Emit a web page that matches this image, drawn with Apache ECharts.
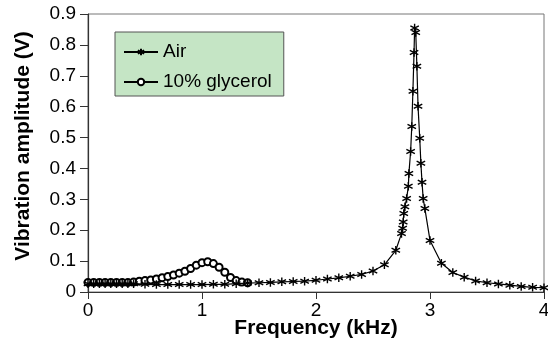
<!DOCTYPE html>
<html>
<head>
<meta charset="utf-8">
<script src="https://cdn.jsdelivr.net/npm/echarts@6/dist/echarts.min.js"></script>
<style>html,body{margin:0;padding:0;background:#fff;}#c{width:548px;height:347px;}</style>
</head>
<body>
<div id="c"></div>
<script>
var seriesNames = ['Air', '10% glycerol'];
var airFreq = [0,0.05,0.1,0.15,0.2,0.25,0.3,0.35,0.4,0.5,0.6,0.7,0.8,0.9,1.0,1.1,1.2,1.3,1.4,1.5,1.6,1.7,1.8,1.9,2.0,2.1,2.2,2.3,2.4,2.5,2.6,2.7,2.75,2.76,2.765,2.77,2.78,2.795,2.81,2.815,2.83,2.84,2.85,2.86,2.865,2.875,2.885,2.895,2.91,2.92,2.93,2.94,2.955,3.0,3.1,3.2,3.3,3.4,3.5,3.6,3.7,3.8,3.9,4.0];
var airAmp = [0.027,0.027,0.027,0.027,0.027,0.027,0.027,0.027,0.027,0.025,0.024,0.024,0.024,0.024,0.024,0.025,0.025,0.027,0.029,0.030,0.031,0.033,0.034,0.035,0.038,0.042,0.046,0.051,0.057,0.068,0.088,0.135,0.189,0.206,0.227,0.254,0.276,0.303,0.342,0.384,0.455,0.536,0.650,0.775,0.855,0.840,0.731,0.601,0.498,0.417,0.355,0.303,0.270,0.167,0.093,0.063,0.048,0.036,0.030,0.026,0.022,0.018,0.015,0.014];
var glyFreq = [0,0.05,0.1,0.15,0.2,0.25,0.3,0.35,0.4,0.45,0.5,0.55,0.6,0.65,0.7,0.75,0.8,0.85,0.9,0.95,1.0,1.05,1.1,1.15,1.2,1.25,1.3,1.35,1.4];
var glyAmp = [0.031,0.031,0.031,0.031,0.031,0.031,0.031,0.031,0.032,0.035,0.037,0.039,0.042,0.046,0.050,0.055,0.061,0.067,0.076,0.087,0.095,0.098,0.092,0.080,0.064,0.047,0.037,0.032,0.030];
var xTicks = [0,1,2,3,4];
var yTicks = [0,0.1,0.2,0.3,0.4,0.5,0.6,0.7,0.8,0.9];
var xTitle = 'Frequency (kHz)';
var yTitle = 'Vibration amplitude (V)';

function pairs(xs, ys){ return xs.map(function(x,i){ return [x, ys[i]]; }); }
var FONT = '"Liberation Sans", Arial, Helvetica, sans-serif';
var star = 'path://M5,0L5,10M0.7,2.5L9.3,7.5M9.3,2.5L0.7,7.5';

var chart = echarts.init(document.getElementById('c'), null, {renderer:'canvas'});
chart.setOption({
  animation: false,
  textStyle: {fontFamily: FONT},
  grid: {left: 88, right: 4, top: 14, bottom: 55, containLabel: false, outerBoundsMode: 'none',
    show: true, borderColor: '#777', borderWidth: 1, backgroundColor: 'transparent'},
  legend: {
    orient: 'vertical', left: 115, top: 32,
    backgroundColor: '#c5e5c5', borderColor: '#555', borderWidth: 1,
    padding: [10, 12, 4, 8], itemGap: 10, itemWidth: 34, itemHeight: 8,
    textStyle: {fontSize: 19, color: '#000', lineHeight: 20, fontFamily: FONT},
    data: seriesNames
  },
  xAxis: {
    type: 'value', min: xTicks[0], max: xTicks[xTicks.length-1], interval: 1,
    axisLine: {show: true, lineStyle: {color: '#333', width: 1.2}},
    axisTick: {show: true, inside: false, length: 7, lineStyle: {color: '#333'}},
    axisLabel: {fontSize: 19, color: '#000', margin: 9, fontFamily: FONT},
    splitLine: {show: false},
    name: xTitle, nameLocation: 'middle', nameGap: 26, nameMoveOverlap: false,
    nameTextStyle: {fontSize: 21, fontWeight: 'bold', color: '#000', fontFamily: FONT}
  },
  yAxis: {
    type: 'value', min: yTicks[0], max: yTicks[yTicks.length-1], interval: 0.1,
    axisLine: {show: true, lineStyle: {color: '#333', width: 1.2}},
    axisTick: {show: true, inside: false, length: 8, lineStyle: {color: '#333'}},
    axisLabel: {fontSize: 19, color: '#000', margin: 12, fontFamily: FONT,
      formatter: function(v){ return v === 0 ? '0' : v.toFixed(1); }},
    splitLine: {show: false}
  },
  graphic: [{
    type: 'text', x: 23, y: 146, rotation: Math.PI/2,
    style: {text: yTitle, font: 'bold 21px ' + FONT, fill: '#000', align: 'center', verticalAlign: 'middle'}
  }],
  series: [
    {
      name: seriesNames[0], type: 'line', data: pairs(airFreq, airAmp),
      symbol: star, symbolSize: 8.5, showAllSymbol: true,
      lineStyle: {color: '#000', width: 1.2},
      itemStyle: {color: '#000', borderColor: '#000', borderWidth: 1.4},
      z: 3
    },
    {
      name: seriesNames[1], type: 'line', data: pairs(glyFreq, glyAmp),
      symbol: 'emptyCircle', symbolSize: 7, showAllSymbol: true,
      lineStyle: {color: '#000', width: 1.2},
      itemStyle: {color: '#000', borderColor: '#000', borderWidth: 1},
      z: 2
    }
  ]
});
</script>
</body>
</html>
